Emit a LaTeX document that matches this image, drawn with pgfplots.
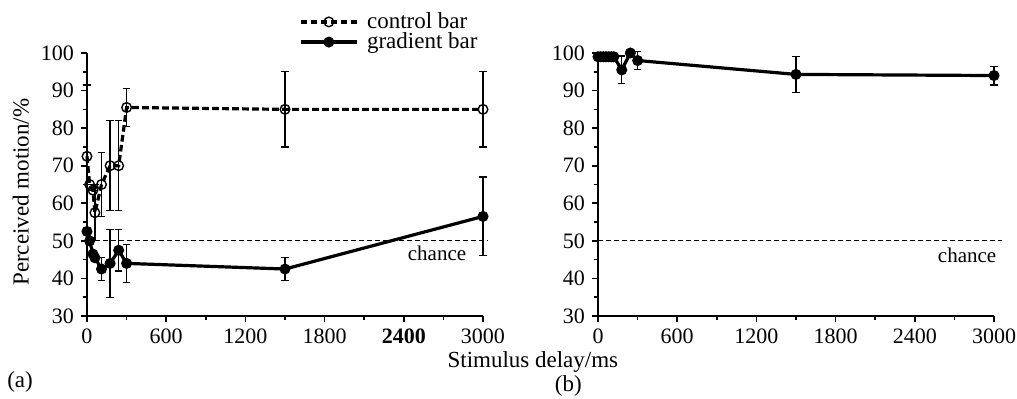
\documentclass[border=0pt]{standalone}
\usepackage{fontspec}
\setmainfont{Liberation Serif}
\usepackage{pgfplots}
\pgfplotsset{compat=1.18}

\pgfplotsset{
  panel/.style={
    scale only axis, width=198pt, height=131.5pt,
    xmin=0, xmax=3000, ymin=30, ymax=100,
    axis lines=left, axis line style={-, line width=0.9pt},
    clip=false,
    xtick={0,600,...,3000}, ytick={30,40,...,100},
    minor x tick num=1, minor y tick num=1,
    tick align=outside, major tick length=3pt, minor tick length=1.8pt,
    every tick/.style={line width=0.8pt, black},
    tick label style={font=\fontsize{11}{12}\selectfont},
    /pgf/number format/assume math mode=true,
    /pgf/number format/1000 sep={},
    label style={font=\fontsize{11.5}{12}\selectfont},
  },
  gradient/.style={black, line width=1.6pt, mark=*, mark size=2.5pt,
    mark options={solid, fill=black, line width=0.5pt}},
  control/.style={black, line width=1.6pt, dash pattern=on 3.3pt off 1.7pt,
    mark=o, mark size=2.4pt, mark options={solid, fill=white, line width=0.7pt}},
  ebars/.style={error bars/.cd, y dir=both, y explicit,
    error bar style={solid, line width=0.6pt, black},
    error mark options={rotate=90, mark size=1.8pt, line width=0.6pt, solid, black}},
  chance/.style={black, line width=0.6pt, dash pattern=on 2.5pt off 1.5pt},
}

\pgfplotstableread{
x    y     e
0    72.5  19
20   65    0
45   63.5  0
60   57.5  7.5
110  65    8.5
175  70    12
240  70    12
300  85.5  5
1500 85    10
3000 85    10
}\controlA

\pgfplotstableread{
x    y     e
0    52.5  0
20   50    0
45   46.5  0
60   45.5  0
110  42.5  3
175  44    9
240  47.5  5.5
300  44    5
1500 42.5  3
3000 56.5  10.5
}\gradientA

\pgfplotstableread{
x    y     e
0    99    0
20   99    0
40   99    0
60   99    0
80   99    0
100  99    0
120  99    0
180  95.5  3.7
245  100   0
300  98    2.3
1500 94.3  4.8
3000 94    2.5
}\gradientB

\begin{document}
\begin{tikzpicture}
\path[use as bounding box] (-43.5pt,-41.5pt) rectangle (465pt,158pt);

\begin{axis}[panel, at={(0pt,0pt)}, anchor=south west,
  xticklabels={0,600,1200,1800,\textbf{2400},3000},
  xlabel={Stimulus delay/ms},
  xlabel style={at={(axis description cs:1.126,-0.175)}, anchor=center, inner sep=0pt},
  ylabel={Perceived motion/\%},
  ylabel style={at={(axis description cs:-0.167,0.471)}, anchor=center},
  legend style={draw=none, fill=none, at={(0.535,1.158)}, anchor=north west,
    font=\fontsize{11.5}{12}\selectfont, inner sep=0pt, row sep=0pt,
    nodes={inner sep=0.3pt},
    /tikz/every odd column/.append style={column sep=4pt}},
  legend cell align=left,
  legend image code/.code={\draw[mark repeat=2,mark phase=2,#1] plot coordinates {(0pt,0pt)(14pt,0pt)(28pt,0pt)};},
]
\addplot[chance, forget plot] coordinates {(0,50) (3040,50)};
\addplot[control, ebars] table[x=x, y=y, y error=e] {\controlA};
\addlegendentry{control bar}
\addplot[gradient, ebars] table[x=x, y=y, y error=e] {\gradientA};
\addlegendentry{gradient bar}
\node[font=\fontsize{10.5}{12}\selectfont] at (axis description cs:0.884,0.240) {chance};
\node[font=\fontsize{11.5}{12}\selectfont, inner sep=0pt] at (axis description cs:-0.169,-0.25) {(a)};
\end{axis}

\begin{axis}[panel, at={(255.5pt,0pt)}, anchor=south west]
\addplot[chance, forget plot] coordinates {(0,50) (3060,50)};
\addplot[gradient, ebars] table[x=x, y=y, y error=e] {\gradientB};
\node[font=\fontsize{10.5}{12}\selectfont] at (axis description cs:0.932,0.232) {chance};
\node[font=\fontsize{11.5}{12}\selectfont, inner sep=0pt] at (axis description cs:-0.075,-0.266) {(b)};
\end{axis}
\end{tikzpicture}
\end{document}
